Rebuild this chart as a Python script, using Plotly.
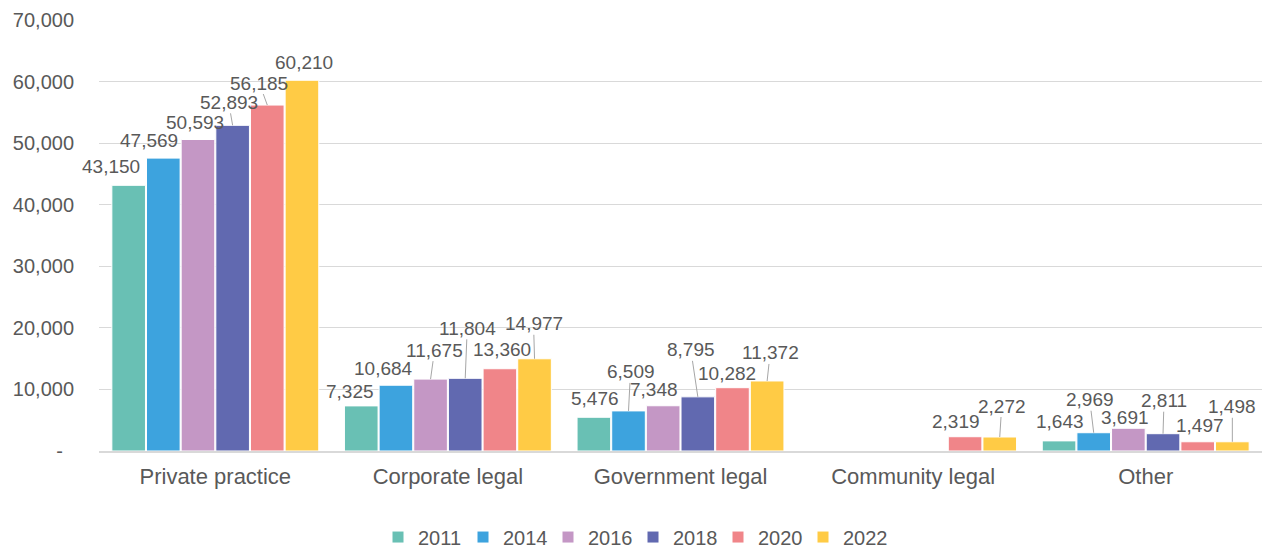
import plotly.graph_objects as go

categories = ["Private practice", "Corporate legal", "Government legal", "Community legal", "Other"]
years = ["2011", "2014", "2016", "2018", "2020", "2022"]
v2011 = [43150, 7325, 5476, None, 1643]
v2014 = [47569, 10684, 6509, None, 2969]
v2016 = [50593, 11675, 7348, None, 3691]
v2018 = [52893, 11804, 8795, None, 2811]
v2020 = [56185, 13360, 10282, 2319, 1497]
v2022 = [60210, 14977, 11372, 2272, 1498]
series = [v2011, v2014, v2016, v2018, v2020, v2022]

y_tickvals = [0, 10000, 20000, 30000, 40000, 50000, 60000, 70000]
y_ticktext = ["-\u00a0\u00a0", "10,000", "20,000", "30,000", "40,000", "50,000", "60,000", "70,000"]

colors = ["#69C0B4", "#3DA3DE", "#C497C5", "#6169B0", "#F08589", "#FFCB45"]

# label placement: pixel offset of label centre from bar top-centre, and leader flag
# indexed [year][category]
label_dx = [
    [-18, -11, 1, 0, 1],
    [-14, -12, 2, 0, -4],
    [-3, 4, -9, 0, -3],
    [-4, 2, -7, 0, 1],
    [-8, 2, -5, -9, 2],
    [2, -1, 3, 2, 0],
]
label_dy = [
    [-19, -14, -19, 0, -19],
    [-18, -17, -39, 0, -33],
    [-17, -29, -16, 0, -11],
    [-23, -50, -47, 0, -33],
    [-22, -19, -14, -15, -16],
    [-18, -35, -28, -31, -35],
]
leader = [
    [0, 0, 0, 0, 0],
    [0, 0, 1, 0, 1],
    [0, 1, 0, 0, 0],
    [1, 1, 1, 0, 1],
    [1, 0, 0, 0, 0],
    [0, 1, 1, 1, 1],
]

bargap = 0.106
ngroups = len(years)
slot = (1 - bargap) / ngroups

fig = go.Figure()
for j, (yr, vals) in enumerate(zip(years, series)):
    fig.add_trace(go.Bar(
        name=yr, x=categories, y=vals,
        marker=dict(color=colors[j], line=dict(color="white", width=1)),
        hoverinfo="skip",
    ))

font_family = "Liberation Sans, Arial, sans-serif"
txt_color = "#595959"

annotations = []
for j, vals in enumerate(series):
    for i, v in enumerate(vals):
        if v is None:
            continue
        xpos = i + (j - (ngroups - 1) / 2) * slot
        text = f"{v:,}"
        if leader[j][i]:
            annotations.append(dict(
                x=xpos, y=v, xref="x", yref="y", text=text,
                showarrow=True, arrowhead=0, arrowwidth=1, arrowcolor="#A6A6A6",
                ax=label_dx[j][i], ay=label_dy[j][i], standoff=0, borderpad=0,
                font=dict(size=19, color=txt_color, family=font_family),
            ))
        else:
            annotations.append(dict(
                x=xpos, y=v, xref="x", yref="y", text=text,
                showarrow=False, xshift=label_dx[j][i], yshift=-label_dy[j][i],
                font=dict(size=19, color=txt_color, family=font_family),
            ))

fig.update_layout(
    width=1266, height=548,
    margin=dict(l=99, r=4, t=20, b=97, autoexpand=False),
    paper_bgcolor="white", plot_bgcolor="white",
    barmode="group", bargap=bargap, bargroupgap=0.03,
    font=dict(family=font_family, color=txt_color, size=20),
    showlegend=True,
    legend=dict(
        orientation="h", xref="container", yref="container",
        x=0.5, xanchor="center", y=0.02, yanchor="middle",
        font=dict(size=20, color=txt_color), itemwidth=30,
        entrywidth=40, entrywidthmode="pixels",
        traceorder="normal", tracegroupgap=0,
    ),
    annotations=annotations,
    xaxis=dict(
        type="category", showgrid=False, showline=True, linecolor="#D9D9D9", linewidth=1.5,
        ticks="", tickfont=dict(size=22, color=txt_color), ticklabelstandoff=5,
        range=[-0.5, len(categories) - 0.5],
    ),
    yaxis=dict(
        range=[0, 70000], tickvals=y_tickvals, ticktext=y_ticktext,
        showgrid=True, gridcolor="#D9D9D9", gridwidth=1, zeroline=False,
        ticks="", tickfont=dict(size=20, color=txt_color), ticklabelstandoff=24,
        showline=False,
    ),
)

fig.write_html("out.html", config={"displayModeBar": False},
               post_script="document.body.style.margin='0';")
